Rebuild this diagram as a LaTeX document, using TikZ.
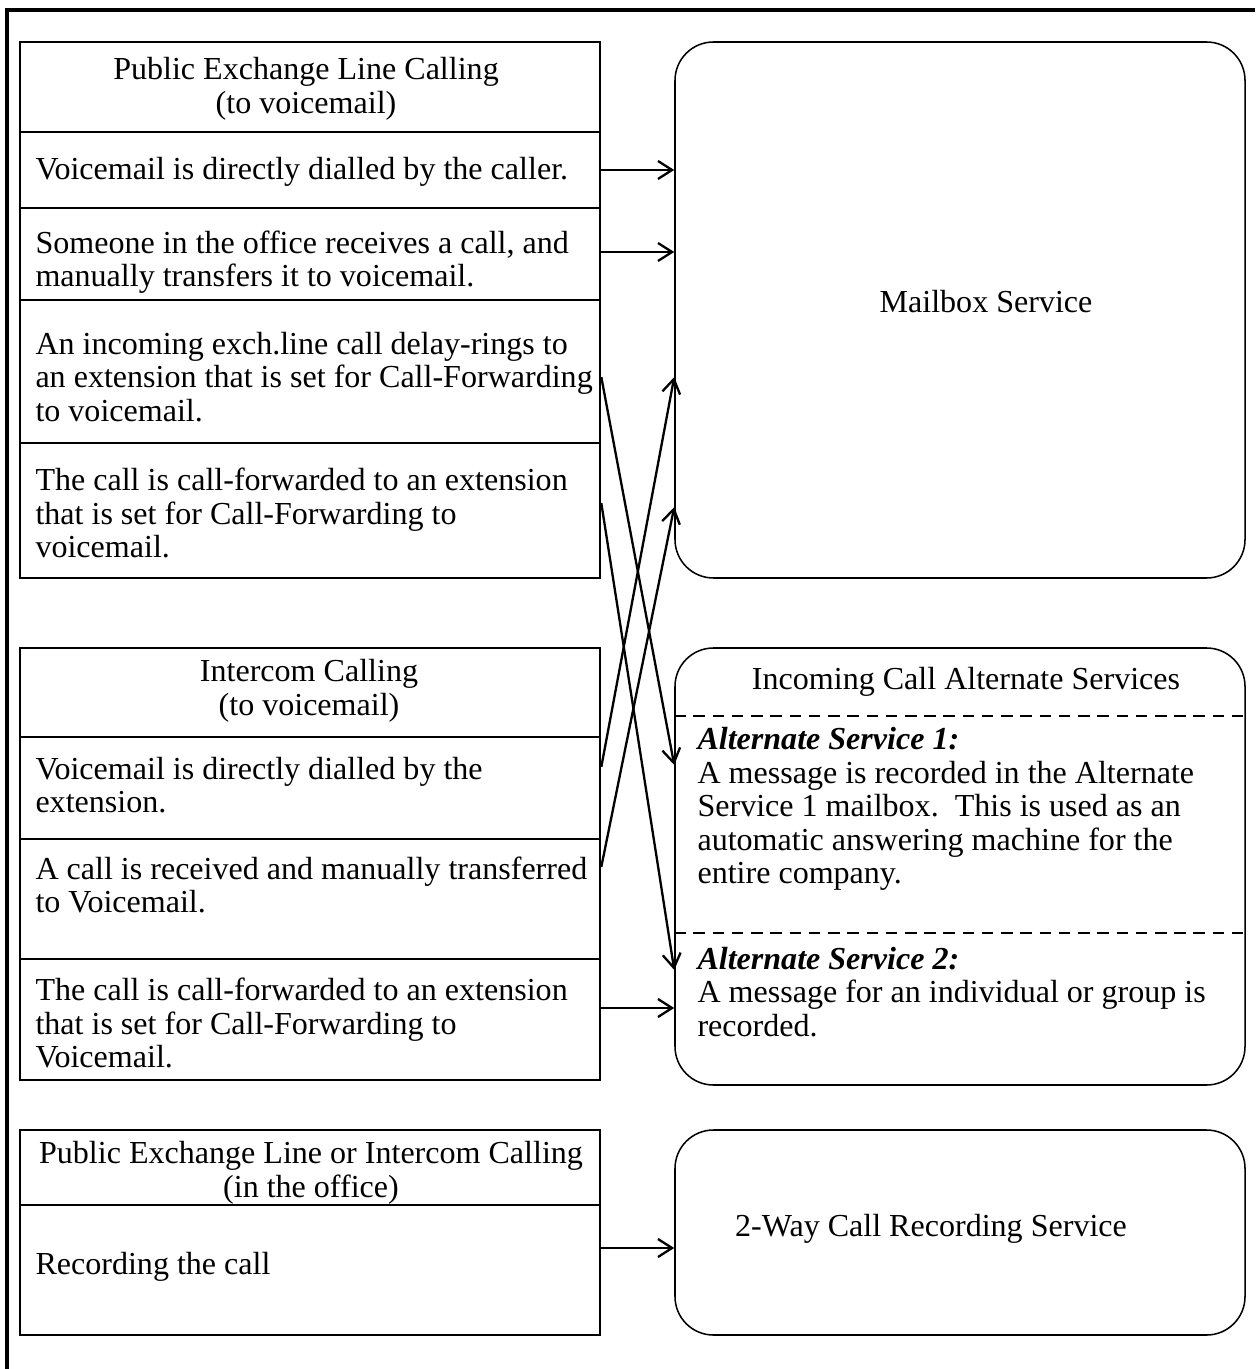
\documentclass[tikz,border=0pt]{standalone}
\usepackage{fontspec}
\setmainfont{Liberation Serif}
\usetikzlibrary{fit,arrows.meta}

\begin{document}
\begin{tikzpicture}[x=0.39pt, y=-0.39pt,
  font=\fontsize{12.5}{13.1}\selectfont,
  cell/.style={draw, line width=1pt, inner sep=0pt, fit={#1}},
  svc/.style={draw, line width=0.6pt, rounded corners=15pt, inner sep=0pt, fit={#1}},
  txt/.style={anchor=west, align=left, inner sep=0pt},
  hdr/.style={align=center, inner sep=0pt},
  sep/.style={line width=0.8pt, dash pattern=on 4.5pt off 3pt},
  arr/.style={line width=0.9pt, -{Straight Barb[length=5.5pt,width=7pt]}}]
\useasboundingbox (0,0) rectangle (1255,1369);
\draw[line width=1.3pt] (7,1369) -- (7,10) -- (1255,10);

% public exchange line calling
\node[cell={(20,42) (600,132)}] (pubhead) {};
\node[cell={(20,132) (600,208)}] (pub1) {};
\node[cell={(20,208) (600,300)}] (pub2) {};
\node[cell={(20,300) (600,443)}] (pub3) {};
\node[cell={(20,443) (600,578)}] (pub4) {};
\node[hdr] at (306,89) {Public Exchange Line Calling\\(to voicemail)};
\node[txt] (pub1txt) at (35,172) {Voicemail is directly dialled by the caller.};
\node[txt] (pub2txt) at (35,262) {Someone in the office receives a call, and\\manually transfers it to voicemail.};
\node[txt] (pub3txt) at (35,377) {An incoming exch.line call delay-rings to\\an extension that is set for Call-Forwarding\\to voicemail.};
\node[txt] (pub4txt) at (35,513) {The call is call-forwarded to an extension\\that is set for Call-Forwarding to\\voicemail.};

% intercom calling
\node[cell={(20,648) (600,737)}] (inthead) {};
\node[cell={(20,737) (600,839)}] (int1) {};
\node[cell={(20,839) (600,959)}] (int2) {};
\node[cell={(20,959) (600,1080)}] (int3) {};
\node[hdr] at (309,691) {Intercom Calling\\(to voicemail)};
\node[txt] (int1txt) at (35,785) {Voicemail is directly dialled by the\\extension.};
\node[txt] (int2txt) at (35,885) {A call is received and manually transferred\\to Voicemail.};
\node[txt] (int3txt) at (35,1023) {The call is call-forwarded to an extension\\that is set for Call-Forwarding to\\Voicemail.};

% in the office
\node[cell={(20,1130) (600,1205)}] (rechead) {};
\node[cell={(20,1205) (600,1335)}] (rec1) {};
\node[hdr] at (311,1173) {Public Exchange Line or Intercom Calling\\(in the office)};
\node[txt] (rec1txt) at (35,1267) {Recording the call};

% services
\node[svc={(675,42) (1245,578)}] (mail) {};
\node at (986,302) {Mailbox Service};
\node[svc={(675,648) (1245,1085)}] (alt) {};
\node at (966,682) {Incoming Call Alternate Services};
\draw[sep] (alt.west |- 0,716) -- (alt.east |- 0,716);
\draw[sep] (alt.west |- 0,933) -- (alt.east |- 0,933);
\node[txt] (alt1) at (697,809) {\textbf{\textit{Alternate Service 1:}}\\A message is recorded in the Alternate\\Service 1 mailbox.\ \ This is used as an\\automatic answering machine for the\\entire company.};
\node[txt] (alt2) at (697,992) {\textbf{\textit{Alternate Service 2:}}\\A message for an individual or group is\\recorded.};
\node[svc={(675,1130) (1245,1335)}] (recsvc) {};
\node at (931,1229) {2-Way Call Recording Service};

% connectors
\draw[arr] (pub1.east |- 0,170) -- (mail.west |- 0,170);
\draw[arr] (pub2.east |- 0,252) -- (mail.west |- 0,252);
\draw[arr] (pub3.east |- 0,377) -- (alt.west |- 0,765);
\draw[arr] (pub4.east |- 0,503) -- (alt.west |- 0,970);
\draw[arr] (int1.east |- 0,767) -- (mail.west |- 0,377);
\draw[arr] (int2.east |- 0,867) -- (mail.west |- 0,507);
\draw[arr] (int3.east |- 0,1008) -- (alt.west |- 0,1008);
\draw[arr] (rec1.east |- 0,1248) -- (recsvc.west |- 0,1248);
\end{tikzpicture}
\end{document}
